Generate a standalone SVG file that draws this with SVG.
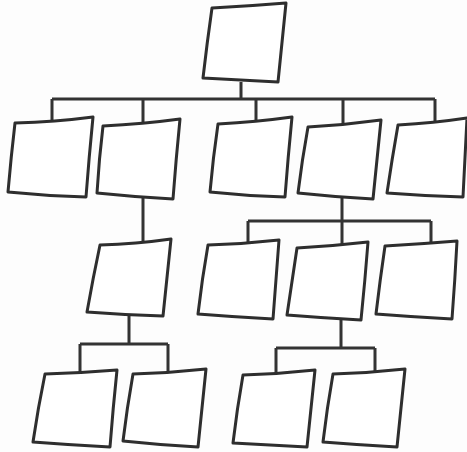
<svg xmlns="http://www.w3.org/2000/svg" width="467" height="452" viewBox="0 0 467 452">
<style>
.box{fill:#fff;stroke:#2e2e2e;stroke-width:3;stroke-linejoin:round}
.wire{fill:none;stroke:#333;stroke-width:3;stroke-linecap:butt}
</style>
<rect width="467" height="452" fill="#fdfdfd"/>
<g id="connectors" class="wire">
<path d="M241 82V99M52 99H435M52 99V122M143 99V124M256 99V122M343 99V124M435 99V122"/>
<path d="M143 198V242"/>
<path d="M342 198V221M248 221H431M248 221V244M342 221V246M431 221V244"/>
<path d="M129 315V344M80 344H168M80 344V373M168 344V372"/>
<path d="M341 318V348M276 348H375M276 348V374M375 348V372"/>
</g>
<g id="n0"><path class="box" d="M212 8Q250 6 286 3Q282 42 278 82Q240 80 203 78Q207 43 212 8Z"/></g>
<g id="n1"><path class="box" d="M15 123Q55 122 93 117Q89 157 86 197Q47 196 8 192Q11 157 15 123Z"/></g>
<g id="n2"><path class="box" d="M103 126Q143 124 180 119Q176 159 173 199Q135 197 97 193Q99 159 103 126Z"/></g>
<g id="n3"><path class="box" d="M218 124Q256 122 292 117Q288 157 285 197Q247 196 210 192Q213 158 218 124Z"/></g>
<g id="n4"><path class="box" d="M308 127Q345 125 381 120Q377 160 373 199Q335 197 298 193Q302 160 308 127Z"/></g>
<g id="n5"><path class="box" d="M398 125Q434 123 467 118Q465 158 463 197Q425 196 387 193Q392 159 398 125Z"/></g>
<g id="n6"><path class="box" d="M100 245Q136 244 171 239Q167 278 163 316Q125 315 87 312Q93 278 100 245Z"/></g>
<g id="n7"><path class="box" d="M208 245Q244 244 279 240Q276 280 273 319Q235 317 198 314Q202 279 208 245Z"/></g>
<g id="n8"><path class="box" d="M297 248Q333 246 368 242Q365 281 361 320Q324 318 287 315Q292 281 297 248Z"/></g>
<g id="n9"><path class="box" d="M385 246Q421 244 457 241Q455 280 452 319Q414 317 376 314Q380 280 385 246Z"/></g>
<g id="n10"><path class="box" d="M45 374Q81 373 117 370Q113 408 110 447Q71 445 33 442Q38 408 45 374Z"/></g>
<g id="n11"><path class="box" d="M133 374Q170 373 206 369Q202 408 198 447Q160 445 123 441Q127 408 133 374Z"/></g>
<g id="n12"><path class="box" d="M243 375Q279 374 315 370Q311 408 307 447Q270 445 233 443Q237 409 243 375Z"/></g>
<g id="n13"><path class="box" d="M333 374Q369 373 405 369Q401 408 397 447Q360 445 323 442Q327 408 333 374Z"/></g>
</svg>
